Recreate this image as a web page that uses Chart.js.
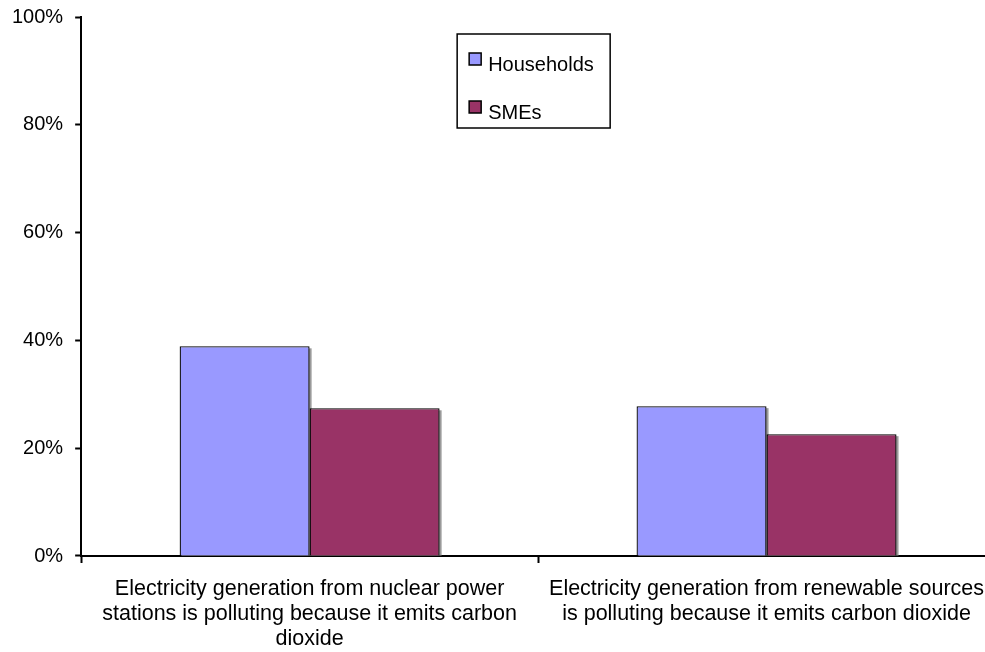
<!DOCTYPE html>
<html>
<head>
<meta charset="utf-8">
<script src="https://cdn.jsdelivr.net/npm/chart.js@4"></script>
<style>
  html, body { margin: 0; padding: 0; background: #fff; overflow: hidden; }
  #wrap { position: relative; width: 985px; height: 652px; overflow: hidden; }
  #c { display: block; margin-top: -7px; }
</style>
</head>
<body>
<div id="wrap"><canvas id="c" width="1000" height="673"></canvas></div>
<script>
// Survey statements (x categories), wrapped onto lines as printed
const categories = [
  ['Electricity generation from nuclear power', 'stations is polluting because it emits carbon', 'dioxide'],
  ['Electricity generation from renewable sources', 'is polluting because it emits carbon dioxide']
];
const seriesNames = ['Households', 'SMEs'];
const households = [38.9, 27.8];   // % agreeing
const smes = [27.4, 22.6];         // % agreeing
const yTickValues = [0, 20, 40, 60, 80, 100];

const FONT = '"Liberation Sans", Arial, Helvetica, sans-serif';

// Soft grey drop shadow to the right of each bar
const barShadow = {
  id: 'barShadow',
  beforeDatasetsDraw(chart) {
    const ctx = chart.ctx;
    ctx.save();
    ctx.fillStyle = '#9a9a9a';
    chart.data.datasets.forEach((ds, i) => {
      chart.getDatasetMeta(i).data.forEach(bar => {
        const p = bar.getProps(['x', 'y', 'base', 'width'], true);
        ctx.fillRect(p.x - p.width / 2 + 2, p.y + 2, p.width, p.base - p.y - 2);
      });
    });
    ctx.restore();
  }
};

// Boxed legend drawn inside the plot area
const boxLegend = {
  id: 'boxLegend',
  afterDraw(chart, args, opts) {
    const ctx = chart.ctx, a = chart.chartArea;
    const x0 = a.left + opts.x, y0 = a.top + opts.y;
    ctx.save();
    ctx.fillStyle = '#fff';
    ctx.fillRect(x0, y0, opts.w, opts.h);
    ctx.strokeStyle = '#000';
    ctx.lineWidth = 1.5;
    ctx.strokeRect(x0, y0, opts.w, opts.h);
    chart.data.datasets.forEach((ds, i) => {
      const sy = y0 + 19 + i * 48;
      ctx.fillStyle = ds.backgroundColor;
      ctx.fillRect(x0 + 12, sy, 12, 12);
      ctx.strokeStyle = '#000';
      ctx.lineWidth = 1.5;
      ctx.strokeRect(x0 + 12, sy, 12, 12);
      ctx.fillStyle = '#000';
      ctx.font = '20px ' + FONT;
      ctx.textBaseline = 'alphabetic';
      ctx.textAlign = 'left';
      ctx.fillText(ds.label, x0 + 31, y0 + 36.5 + i * 48);
    });
    ctx.restore();
  }
};

new Chart(document.getElementById('c'), {
  type: 'bar',
  data: {
    labels: categories,
    datasets: [
      { label: seriesNames[0], data: households, backgroundColor: '#9999FF',
        borderColor: '#000', borderWidth: 1.3 },
      { label: seriesNames[1], data: smes, backgroundColor: '#993366',
        borderColor: '#000', borderWidth: 1.3 }
    ]
  },
  options: {
    responsive: false,
    animation: false,
    layout: { padding: { left: 0, right: 5, top: 9, bottom: 0 } },
    datasets: { bar: { categoryPercentage: 0.569, barPercentage: 1.0 } },
    plugins: {
      legend: { display: false },
      tooltip: { enabled: false },
      boxLegend: { x: 376, y: 17, w: 153, h: 94 }
    },
    scales: {
      x: {
        offset: true,
        grid: { offset: true, drawOnChartArea: false, drawTicks: true,
                tickLength: 7, tickColor: '#000', tickWidth: 2 },
        border: { display: true, color: '#000', width: 2 },
        ticks: { color: '#000', maxRotation: 0, minRotation: 0, autoSkip: false,
                 padding: 14, font: { family: FONT, size: 21.5, lineHeight: 1.163 } }
      },
      y: {
        min: 0, max: 100,
        afterBuildTicks(scale) { scale.ticks = yTickValues.map(v => ({ value: v })); },
        grid: { drawOnChartArea: false, drawTicks: true, tickLength: 6,
                tickColor: '#000', tickWidth: 2 },
        border: { display: true, color: '#000', width: 2 },
        ticks: { color: '#000', padding: 12, callback: v => v + '%',
                 font: { family: FONT, size: 20 } }
      }
    }
  },
  plugins: [barShadow, boxLegend]
});
</script>
</body>
</html>
